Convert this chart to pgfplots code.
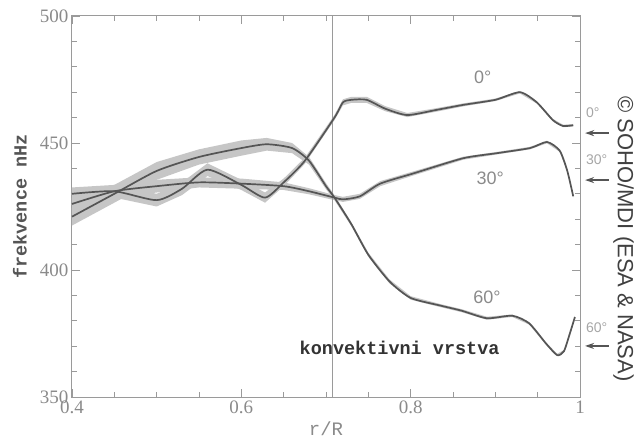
\documentclass[border=0pt]{standalone}
\usepackage{fontspec}
\setmainfont{Liberation Serif}
\newfontfamily\monofont{Liberation Mono}
\newfontfamily\sansfont{Liberation Sans}
\usepackage{pgfplots}
\usepackage{pgfplotstable}
\pgfplotsset{compat=1.18}
\usetikzlibrary{arrows.meta}
\definecolor{axgray}{HTML}{9A9A9A}
\definecolor{curve}{HTML}{555555}
\definecolor{band}{HTML}{C6C6C6}
\definecolor{txtgray}{HTML}{8A8A8A}

\pgfplotstableread{
r v
0.40 430
0.45 431
0.50 427.5
0.53 432
0.56 439.5
0.60 433.5
0.628 428.5
0.65 434.5
0.675 443
0.71 460
0.72 466
0.73 467
0.748 467
0.77 463.5
0.796 461
0.83 463
0.862 465
0.90 467
0.929 470
0.949 466
0.968 459
0.98 456.7
0.992 457
}\zero

\pgfplotstableread{
r v
0.40 432.5
0.45 433.5
0.50 430
0.53 434.5
0.56 442
0.60 435.5
0.628 430.5
0.65 436
0.675 444.2
0.71 461
0.72 467.2
0.73 468.2
0.748 468.2
0.77 464.5
0.796 461.8
0.83 463.7
0.862 465.6
0.90 467.5
0.929 470.5
0.949 466.5
0.968 459.5
0.98 457.2
0.992 457.5
0.992 456.5
0.98 456.2
0.968 458.5
0.949 465.5
0.929 469.5
0.90 466.5
0.862 464.4
0.83 462.3
0.796 460.2
0.77 462.5
0.748 465.8
0.73 465.8
0.72 464.8
0.71 459
0.675 441.8
0.65 433
0.628 426.5
0.60 431.5
0.56 437
0.53 429.5
0.50 425
0.45 428.5
0.40 427.5
}\zeroband

\pgfplotstableread{
r v
0.40 426
0.45 431
0.50 433
0.55 434.5
0.60 434
0.65 433
0.68 431
0.71 428.5
0.72 427.8
0.74 429
0.764 434
0.803 438
0.862 444
0.902 446
0.941 448
0.961 450.4
0.976 447
0.985 439
0.992 429
}\thirty

\pgfplotstableread{
r v
0.40 428.5
0.45 433.5
0.50 435.5
0.55 436.5
0.60 436
0.65 434.5
0.68 432.2
0.71 429.5
0.72 428.8
0.74 430
0.764 435
0.803 438.8
0.862 444.6
0.902 446.5
0.941 448.5
0.961 450.9
0.976 447.5
0.985 439.5
0.992 429.5
0.992 428.5
0.985 438.5
0.976 446.5
0.961 449.9
0.941 447.5
0.902 445.5
0.862 443.4
0.803 437.2
0.764 433
0.74 428
0.72 426.8
0.71 427.5
0.68 429.8
0.65 431.5
0.60 432
0.55 432.5
0.50 430.5
0.45 428.5
0.40 423.5
}\thirtyband

\pgfplotstableread{
r v
0.40 421
0.45 430
0.50 439
0.55 444.5
0.60 448
0.63 449.5
0.66 448
0.68 443
0.70 433
0.71 428.5
0.73 418
0.75 406
0.775 395.5
0.80 389
0.835 386
0.86 384
0.89 381
0.92 382
0.94 379
0.96 371
0.973 366.5
0.981 368
0.988 375
0.994 381.5
}\sixty

\pgfplotstableread{
r v
0.40 424.5
0.45 433.5
0.50 442.5
0.55 447.5
0.60 451
0.63 452
0.66 450
0.68 444.5
0.70 434.2
0.71 429.5
0.73 418.8
0.75 406.8
0.775 396.3
0.80 389.7
0.835 386.6
0.86 384.6
0.89 381.6
0.92 382.5
0.94 379.5
0.96 371.5
0.973 367
0.981 368.5
0.988 375.5
0.994 382
0.994 381
0.988 374.5
0.981 367.5
0.973 366
0.96 370.5
0.94 378.5
0.92 381.5
0.89 380.4
0.86 383.4
0.835 385.4
0.80 388.3
0.775 394.7
0.75 405.2
0.73 417.2
0.71 427.5
0.70 431.8
0.68 441.5
0.66 446
0.63 447
0.60 445
0.55 441.5
0.50 435.5
0.45 426.5
0.40 417.5
}\sixtyband

\begin{document}
\begin{tikzpicture}
\path[use as bounding box] (-72pt,-42pt) rectangle (565pt,397pt);
\begin{axis}[
  width=508pt, height=381pt, scale only axis,
  at={(0,0)}, anchor=south west,
  xmin=0.4, xmax=1, ymin=350, ymax=500,
  xtick={0.4,0.6,0.8,1}, xticklabels={0.4,0.6,0.8,1},
  ytick={350,400,450,500},
  minor x tick num=3, minor y tick num=4,
  tick align=inside, major tick length=8pt, minor tick length=5pt,
  axis line style={axgray, line width=1pt},
  every tick/.style={axgray, line width=0.8pt},
  tick label style={font=\fontsize{19}{19}\selectfont, text=txtgray},
  /pgf/number format/assume math mode=true,
  clip=false,
  xlabel={r/R},
  xlabel style={font=\monofont\fontsize{19}{19}\selectfont, text=txtgray, at={(axis description cs:0.5,0)}, anchor=center, yshift=-32pt},
  ylabel={frekvence nHz},
  ylabel style={font=\monofont\bfseries\fontsize{18.5}{18.5}\selectfont, text=curve, at={(axis description cs:0,0.5)}, anchor=center, rotate=0, yshift=52pt},
]
% bands
\addplot[fill=band, draw=none, forget plot] table[x=r, y=v]{\zeroband} -- cycle;
\addplot[fill=band, draw=none, forget plot] table[x=r, y=v]{\thirtyband} -- cycle;
\addplot[fill=band, draw=none, forget plot] table[x=r, y=v]{\sixtyband} -- cycle;
% tachocline line
\addplot[axgray, line width=1pt] coordinates {(0.708,350) (0.708,500)};
% curves
\addplot[curve, line width=1.7pt, smooth, tension=0.4] table[x=r, y=v]{\zero};
\addplot[curve, line width=1.7pt, smooth, tension=0.4] table[x=r, y=v]{\thirty};
\addplot[curve, line width=1.7pt, smooth, tension=0.4] table[x=r, y=v]{\sixty};
% labels
\node[font=\sansfont\fontsize{18}{18}\selectfont, text=txtgray] at (axis cs:0.885,476) {0°};
\node[font=\sansfont\fontsize{18}{18}\selectfont, text=txtgray] at (axis cs:0.894,436.2) {30°};
\node[font=\sansfont\fontsize{18}{18}\selectfont, text=txtgray] at (axis cs:0.890,389.4) {60°};
\node[font=\monofont\bfseries\fontsize{18.5}{18.5}\selectfont, text=black!80] at (axis cs:0.787,369.3) {konvektivni vrstva};
% right side
\node[anchor=west, inner sep=0pt, font=\sansfont\fontsize{14}{14}\selectfont, text=black!35] at (axis cs:1.007,461.8) {0°};
\node[anchor=west, inner sep=0pt, font=\sansfont\fontsize{14}{14}\selectfont, text=black!35] at (axis cs:1.007,443.3) {30°};
\node[anchor=west, inner sep=0pt, font=\sansfont\fontsize{14}{14}\selectfont, text=black!35] at (axis cs:1.007,377.2) {60°};
\draw[-{Stealth[length=9pt,width=6pt]}, curve, line width=1.5pt] (axis cs:1.034,453.9) -- (axis cs:1.006,453.9);
\draw[-{Stealth[length=9pt,width=6pt]}, curve, line width=1.5pt] (axis cs:1.034,435.4) -- (axis cs:1.006,435.4);
\draw[-{Stealth[length=9pt,width=6pt]}, curve, line width=1.5pt] (axis cs:1.034,370.1) -- (axis cs:1.006,370.1);
\node[rotate=-90, inner sep=1pt, font=\sansfont\fontsize{22}{22}\selectfont, text=black!75] at (axis cs:1.0515,412.2) {© SOHO/MDI (ESA \& NASA)};
\end{axis}
\end{tikzpicture}
\end{document}
